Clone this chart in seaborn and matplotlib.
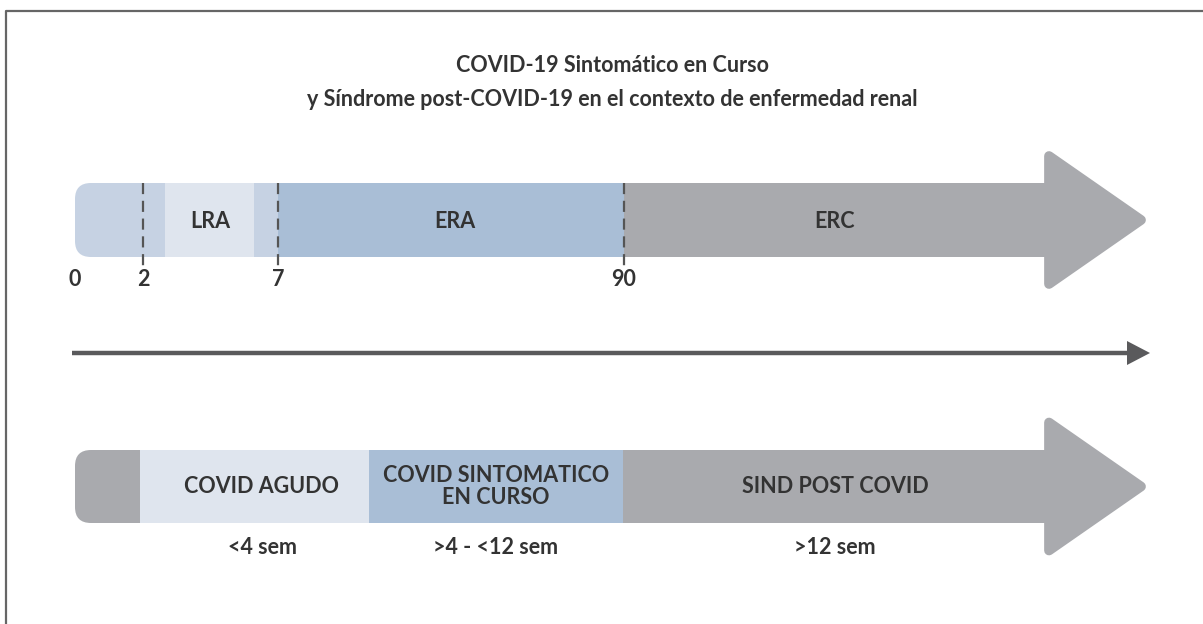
import matplotlib
matplotlib.use("Agg")
import matplotlib.pyplot as plt
import seaborn as sns
from matplotlib.patches import FancyBboxPatch, Polygon

# ---------------- data ----------------
title_lines = ["COVID-19 Sintomático en Curso",
               "y Síndrome post-COVID-19 en el contexto de enfermedad renal"]
day_ticks = ["0", "2", "7", "90"]
renal_stages = ["LRA", "ERA", "ERC"]
covid_phases = ["COVID AGUDO", "COVID SINTOMATICO\nEN CURSO", "SIND POST COVID"]
phase_durations = ["<4 sem", ">4 - <12 sem", ">12 sem"]

# ---------------- layout (pixel canvas) ----------------
W, H = 1203, 624
tick_x = [75, 143, 278, 624]
top_bar = dict(y0=183, y1=257)
bot_bar = dict(y0=450, y1=523)
bar_end = 1045
head_tip = 1145
head_half = 68
C_LIGHT = "#c6d2e3"
C_PALE = "#dfe5ee"
C_BLUE = "#a9bed6"
C_GRAY = "#a9aaae"
C_TEXT = "#333333"
C_LINE = "#5a5a5c"
top_segs = [(75, 165, C_LIGHT), (165, 254, C_PALE), (254, 278, C_LIGHT),
            (278, 624, C_BLUE), (624, bar_end, C_GRAY)]
top_label_x = [210, 455, 835]
bot_segs = [(75, 140, C_GRAY), (140, 369, C_PALE), (369, 623, C_BLUE),
            (623, bar_end, C_GRAY)]
bot_label_x = [262, 496, 835]
FS = 15.5

sns.set_theme(style="white")
plt.rcParams["font.family"] = ["Lato", "DejaVu Sans"]

fig = plt.figure(figsize=(W / 100, H / 100), dpi=100)
ax = fig.add_axes([0, 0, 1, 1])
ax.set_xlim(0, W)
ax.set_ylim(H, 0)
ax.axis("off")

# frame (top and left only)
ax.plot([6, 6, W], [H + 5, 11, 11], color="#666666", lw=1.6, solid_capstyle="butt")

# title
ax.text(612, 66, title_lines[0], ha="center", va="center", fontsize=FS,
        fontweight="bold", color=C_TEXT)
ax.text(612, 99, title_lines[1], ha="center", va="center", fontsize=FS,
        fontweight="bold", color=C_TEXT)


def draw_bar(segs, y0, y1):
    h = y1 - y0
    yc = (y0 + y1) / 2
    first = segs[0]
    r = 16
    ax.add_patch(FancyBboxPatch((first[0], y0), 2 * r + 4, h,
                                boxstyle=f"round,pad=0,rounding_size={r}",
                                fc=first[2], ec="none", zorder=2))
    for i, (l, rgt, c) in enumerate(segs):
        left = l + r if i == 0 else l
        ax.barh(yc, rgt - left, left=left, height=h, color=c,
                edgecolor="none", zorder=2)
    inset = 4
    poly = Polygon([(bar_end + inset, yc - head_half + inset),
                    (head_tip - inset, yc),
                    (bar_end + inset, yc + head_half - inset)],
                   closed=True, fc=C_GRAY, ec=C_GRAY, lw=7,
                   joinstyle="round", zorder=2)
    ax.add_patch(poly)
    return yc


yc_top = draw_bar(top_segs, top_bar["y0"], top_bar["y1"])
for lbl, x in zip(renal_stages, top_label_x):
    ax.text(x, yc_top + 1, lbl, ha="center", va="center", fontsize=FS,
            fontweight="bold", color=C_TEXT, zorder=4)

for i, (lbl, x) in enumerate(zip(day_ticks, tick_x)):
    if i > 0:
        ax.plot([x, x], [top_bar["y0"], top_bar["y1"] + 10], color="#555555",
                lw=1.6, ls=(0, (5, 3)), zorder=3)
    ax.text(x, 280, lbl, ha="center", va="center", fontsize=FS,
            fontweight="bold", color=C_TEXT)

# middle arrow
ax.plot([72, 1130], [353, 353], color=C_LINE, lw=3.2, solid_capstyle="butt")
ax.add_patch(Polygon([(1127, 341), (1150, 353), (1127, 365)], closed=True,
                     fc=C_LINE, ec="none"))

yc_bot = draw_bar(bot_segs, bot_bar["y0"], bot_bar["y1"])
for lbl, x in zip(covid_phases, bot_label_x):
    ax.text(x, yc_bot, lbl, ha="center", va="center", fontsize=FS,
            fontweight="bold", color=C_TEXT, linespacing=1.0, zorder=4)
for lbl, x in zip(phase_durations, bot_label_x):
    ax.text(x, 547, lbl, ha="center", va="center", fontsize=FS,
            fontweight="bold", color=C_TEXT)

fig.savefig("out.png", dpi=100, facecolor="white")
